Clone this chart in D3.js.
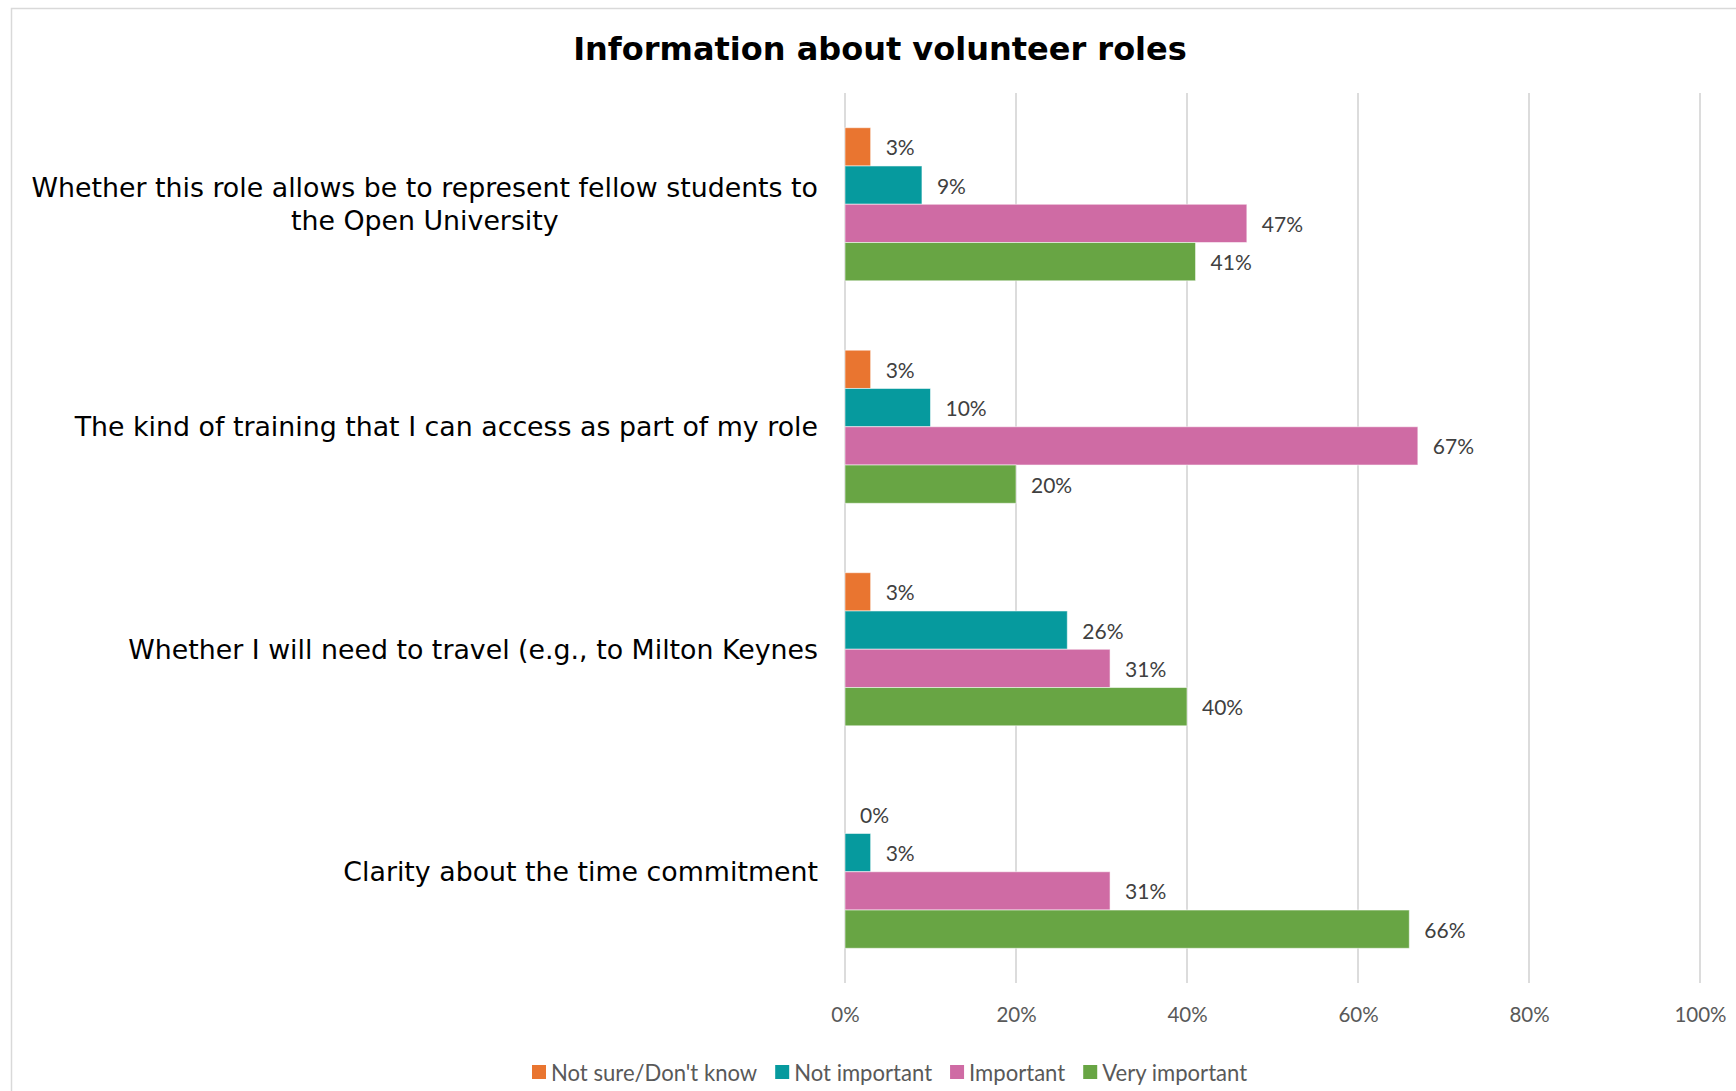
<!DOCTYPE html>
<html>
<head>
<meta charset="utf-8">
<script src="https://cdn.jsdelivr.net/npm/d3@7"></script>
<style>
  html, body { margin: 0; padding: 0; background: #ffffff; }
  svg { display: block; }
</style>
</head>
<body>
<svg id="chart" width="1736" height="1091"></svg>
<script>
// Survey items (top to bottom)
const categories = [
  "Whether this role allows be to represent fellow students to the Open University",
  "The kind of training that I can access as part of my role",
  "Whether I will need to travel (e.g., to Milton Keynes",
  "Clarity about the time commitment"
];

// Response options, drawn top to bottom inside each group
const seriesNames = ["Not sure/Don't know", "Not important", "Important", "Very important"];
const seriesColors = ["#e97530", "#069a9e", "#cf6ba4", "#68a544"];

// Percentages per response option, one value per item
const notSure       = [3, 3, 3, 0];
const notImportant  = [9, 10, 26, 3];
const important     = [47, 67, 31, 31];
const veryImportant = [41, 20, 40, 66];

const tickValues = [0, 20, 40, 60, 80, 100];

const seriesValues = [notSure, notImportant, important, veryImportant];

const svg = d3.select("#chart");
const W = 1736, H = 1091;
const plot = { left: 845, right: 1700, top: 93, bottom: 983 };

// Outer chart-area frame
svg.append("rect")
  .attr("x", 11.5).attr("y", 8.5)
  .attr("width", W + 20).attr("height", H + 20)
  .attr("fill", "none").attr("stroke", "#d9d9d9").attr("stroke-width", 1.5);

// Title
svg.append("text")
  .attr("x", 880).attr("y", 49)
  .attr("text-anchor", "middle").attr("dominant-baseline", "central")
  .attr("font-family", "'DejaVu Sans', Verdana, sans-serif")
  .attr("font-weight", "bold").attr("font-size", 32)
  .attr("fill", "#000000")
  .text("Information about volunteer roles");

const x = d3.scaleLinear().domain([0, 100]).range([plot.left, plot.right]);
const y0 = d3.scaleBand().domain(categories).range([plot.top, plot.bottom])
  .paddingInner(0.312).paddingOuter(0.156);
const y1 = d3.scaleBand().domain(seriesNames).range([0, y0.bandwidth()]);

// Vertical gridlines
svg.append("g")
  .selectAll("line")
  .data(tickValues)
  .join("line")
  .attr("x1", d => x(d)).attr("x2", d => x(d))
  .attr("y1", plot.top).attr("y2", plot.bottom)
  .attr("stroke", "#d9d9d9").attr("stroke-width", 1.8);

// X axis labels
const xAxis = d3.axisBottom(x).tickValues(tickValues).tickSize(0).tickPadding(0)
  .tickFormat(d => d + "%");
const gx = svg.append("g").attr("transform", `translate(0,${plot.bottom})`).call(xAxis);
gx.select(".domain").remove();
gx.selectAll("text")
  .attr("y", 32).attr("dy", "0.35em")
  .attr("font-family", "Lato, 'Open Sans', sans-serif")
  .attr("font-size", 20.5).attr("fill", "#595959");

// Bars and data labels
const rows = categories.map((c, i) => ({
  category: c,
  items: seriesNames.map((s, j) => ({ series: s, color: seriesColors[j], value: seriesValues[j][i] }))
}));

const groups = svg.append("g").selectAll("g")
  .data(rows)
  .join("g")
  .attr("transform", d => `translate(0,${y0(d.category)})`);

groups.selectAll("rect")
  .data(d => d.items)
  .join("rect")
  .attr("x", x(0))
  .attr("y", d => y1(d.series))
  .attr("width", d => x(d.value) - x(0))
  .attr("height", y1.bandwidth())
  .attr("fill", d => d.color)
  .attr("stroke", "#ffffff").attr("stroke-opacity", 0.55).attr("stroke-width", 1);

groups.selectAll("text.val")
  .data(d => d.items)
  .join("text")
  .attr("class", "val")
  .attr("x", d => x(d.value) + 15)
  .attr("y", d => y1(d.series) + y1.bandwidth() / 2)
  .attr("dominant-baseline", "central")
  .attr("font-family", "Lato, 'Open Sans', sans-serif")
  .attr("font-size", 21).attr("fill", "#404040")
  .text(d => d.value + "%");

// Category labels, wrapped and right-aligned against the axis
const labelFont = 26.8, lineGap = 33, maxLabel = 810;
const labelG = svg.append("g");
categories.forEach(c => {
  const cy = y0(c) + y0.bandwidth() / 2;
  const t = labelG.append("text")
    .attr("font-family", "'DejaVu Sans', Verdana, sans-serif")
    .attr("font-size", labelFont).attr("fill", "#000000");
  const words = c.split(" ");
  const lines = [];
  let cur = [];
  const probe = t.append("tspan");
  words.forEach(w => {
    const trial = cur.concat([w]).join(" ");
    probe.text(trial);
    if (probe.node().getComputedTextLength() > maxLabel && cur.length) {
      lines.push(cur.join(" "));
      cur = [w];
    } else {
      cur.push(w);
    }
  });
  lines.push(cur.join(" "));
  probe.remove();
  // widest line sets the block's left edge; each line is centred in the block
  const widths = lines.map(l => { const s = t.append("tspan").text(l); const w = s.node().getComputedTextLength(); s.remove(); return w; });
  const blockW = d3.max(widths);
  const right = plot.left - 27;
  const cx = right - blockW / 2;
  lines.forEach((l, k) => {
    t.append("tspan")
      .attr("x", cx).attr("text-anchor", "middle")
      .attr("y", cy + (k - (lines.length - 1) / 2) * lineGap)
      .attr("dominant-baseline", "central")
      .text(l);
  });
});

// Legend
const legendItems = seriesNames.map((s, j) => ({ name: s, color: seriesColors[j] }));
const legend = svg.append("g");
let lx = 532;
const ly = 1072;
legendItems.forEach(d => {
  legend.append("rect")
    .attr("x", lx).attr("y", ly - 7).attr("width", 14).attr("height", 14)
    .attr("fill", d.color);
  const t = legend.append("text")
    .attr("x", lx + 19).attr("y", ly)
    .attr("dominant-baseline", "central")
    .attr("font-family", "Lato, 'Open Sans', sans-serif")
    .attr("font-size", 22.1).attr("fill", "#595959")
    .text(d.name);
  lx += 19 + t.node().getComputedTextLength() + 18;
});
</script>
</body>
</html>
